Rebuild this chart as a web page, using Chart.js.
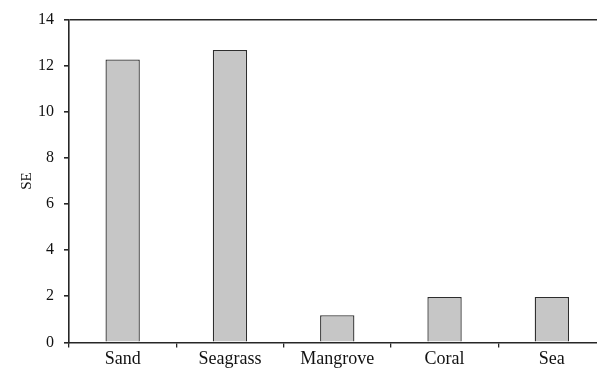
<!DOCTYPE html>
<html>
<head>
<meta charset="utf-8">
<script src="https://cdn.jsdelivr.net/npm/chart.js@4/dist/chart.umd.min.js"></script>
<style>
  html, body { margin: 0; padding: 0; background: #fff; overflow: hidden; }
  #wrap { width: 610px; height: 371px; }
</style>
</head>
<body>
<div id="wrap"><canvas id="seChart" width="610" height="371"></canvas></div>
<script>
let habitats = ['Sand', 'Seagrass', 'Mangrove', 'Coral', 'Sea'];
let seValues = [12.27, 12.68, 1.18, 1.97, 1.97];
let yTicks = [0, 2, 4, 6, 8, 10, 12, 14];

let axisColor = '#262626';
let serif = "'Liberation Serif', 'Times New Roman', serif";

let seChart;

createGraph();

function createGraph(){
    const ctx = document.getElementById('seChart').getContext('2d');

    seChart = new Chart(ctx, {
        type: 'bar',
        data: {
            labels: habitats,
            datasets: [{
                label: 'SE',
                data: seValues,
                backgroundColor: '#c6c6c6',
                borderColor: '#2e2e2e',
                borderWidth: 1.3,
                barPercentage: 0.32,
                categoryPercentage: 1
            }]
        },
        options: {
            responsive: false,
            animation: false,
            layout: { padding: { top: 15, right: 4.5, left: 18, bottom: 0 } },
            plugins: {
                legend: { display: false },
                tooltip: { enabled: false }
            },
            scales: {
                x: {
                    offset: true,
                    grid: {
                        offset: true,
                        color: 'transparent',
                        tickColor: axisColor,
                        tickLength: 5,
                        lineWidth: 1.3
                    },
                    border: { color: axisColor, width: 1.6 },
                    ticks: {
                        color: '#111',
                        font: { family: serif, size: 18 },
                        padding: 1,
                        maxRotation: 0
                    }
                },
                y: {
                    min: 0,
                    max: 14,
                    afterBuildTicks: (axis) => {
                        axis.ticks = yTicks.map(v => ({ value: v }));
                    },
                    grid: {
                        color: (c) => c.tick && c.tick.value === 14 ? axisColor : 'transparent',
                        tickColor: axisColor,
                        tickLength: 5,
                        lineWidth: 1.6
                    },
                    border: { color: axisColor, width: 1.6 },
                    ticks: {
                        color: '#111',
                        font: { family: serif, size: 16 },
                        padding: 10
                    },
                    title: {
                        display: true,
                        text: 'SE',
                        color: '#111',
                        font: { family: serif, size: 15 },
                        padding: { top: 0, bottom: -8 }
                    }
                }
            }
        }
    });
}
</script>
</body>
</html>
